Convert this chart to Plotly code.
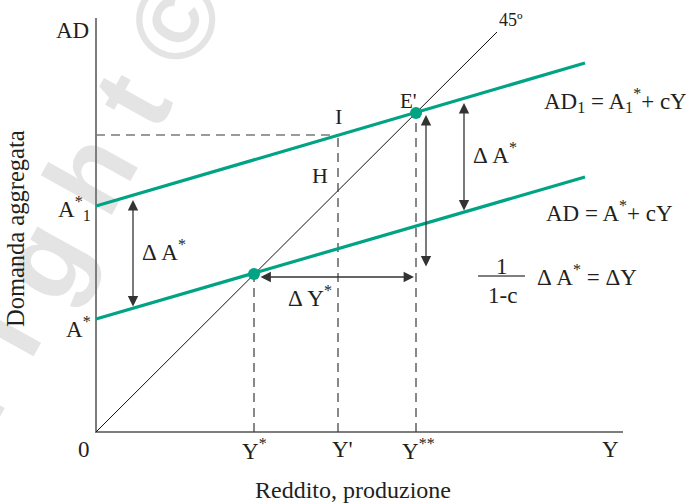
import plotly.graph_objects as go

# ---------------- data (pixel-like units) ----------------
Y_AXIS_TOP = 414          # top of vertical axis
X_AXIS_END = 527          # end of horizontal axis
A_STAR = 113              # intercept of AD
A1_STAR = 226             # intercept of AD1
AD_X = [0, 489]
AD_Y = [113, 255]         # AD = A* + cY
AD1_Y = [226, 369]        # AD1 = A1* + cY
LINE45_X = [0, 401]
LINE45_Y = [0, 400]
Y_STAR = 158              # first equilibrium
Y_PRIME = 242
Y_2STAR = 320             # new equilibrium
I_LEVEL = 297             # AD1 at Y'
E_LEVEL = 319
EQ_X = [158, 320]
EQ_Y = [158, 319]

X_TICK_VALS = [158, 246, 322, 514]
X_TICK_TEXT = ["Y<sup>*</sup>", "Y'", "Y<sup>**</sup>", "Y"]

GREEN = "#00a383"
TXT = "#231f20"
FONT = "Liberation Serif"

fig = go.Figure()

# axes
fig.add_trace(go.Scatter(x=[0, 0, X_AXIS_END], y=[Y_AXIS_TOP, 0, 0], mode="lines",
                         line=dict(color="#7d7d7d", width=2), hoverinfo="skip"))
# 45 degree line
fig.add_trace(go.Scatter(x=LINE45_X, y=LINE45_Y, mode="lines",
                         line=dict(color="#111111", width=1), hoverinfo="skip"))
# dashed guides
fig.add_trace(go.Scatter(x=[0, Y_PRIME], y=[I_LEVEL, I_LEVEL], mode="lines",
                         line=dict(color="#7a7a7a", width=1.6, dash="9px,6px"), hoverinfo="skip"))
for xv, top in [(Y_STAR, EQ_Y[0]), (Y_PRIME, I_LEVEL), (Y_2STAR, E_LEVEL)]:
    fig.add_trace(go.Scatter(x=[xv, xv], y=[0, top], mode="lines",
                             line=dict(color="#3a3a3a", width=1.2, dash="9px,6px"), hoverinfo="skip"))
# AD lines
fig.add_trace(go.Scatter(x=AD_X, y=AD_Y, mode="lines", line=dict(color=GREEN, width=3.2), hoverinfo="skip"))
fig.add_trace(go.Scatter(x=AD_X, y=AD1_Y, mode="lines", line=dict(color=GREEN, width=3.2), hoverinfo="skip"))
# equilibrium points
fig.add_trace(go.Scatter(x=EQ_X, y=EQ_Y, mode="markers",
                         marker=dict(color=GREEN, size=12), hoverinfo="skip"))

annotations = []

def txt(x, y, s, size=23, **kw):
    annotations.append(dict(x=x, y=y, xref="x", yref="y", text=s, showarrow=False,
                            font=dict(family=FONT, size=size, color=TXT), **kw))

def arrow(x0, y0, x1, y1):
    annotations.append(dict(x=x1, y=y1, ax=x0, ay=y0, xref="x", yref="y", axref="x", ayref="y",
                            text="", showarrow=True, arrowhead=2, arrowside="end+start",
                            arrowsize=1.6, arrowwidth=1.3, arrowcolor="#333333",
                            standoff=0, startstandoff=0))

# arrows
arrow(37, 124, 37, 232)                 # left Delta A*
arrow(368, 220, 368, 329)               # right Delta A*
arrow(330, 164, 330, 317)               # vertical Delta Y
arrow(163, 155, 318, 155)               # horizontal Delta Y*

# tick labels
txt(-12, -17, "0")
for v, t in zip(X_TICK_VALS, X_TICK_TEXT):
    txt(v, -17, t)
txt(-24, 402, "AD")
txt(-22, 224, "A<sup>*</sup><sub>1</sub>")
txt(-18, 105, "A<sup>*</sup>")

# point labels
txt(415, 412, "45º", size=18)
txt(242, 316, "I", size=22)
txt(224, 257, "H", size=22)
txt(312, 331, "E'", size=21)

# delta labels
txt(68, 182, "Δ A<sup>*</sup>")
txt(399, 279, "Δ A<sup>*</sup>")
txt(214, 136, "Δ Y<sup>*</sup>")

# equations
txt(519, 332, "AD<sub>1</sub> = A<sub>1</sub><sup>*</sup>+ cY")
txt(513, 221, "AD = A<sup>*</sup>+ cY")
txt(406, 166, "1")
txt(406, 137, "1-c")
txt(491, 157, "Δ A<sup>*</sup> = ΔY")

# axis titles
txt(257, -58, "Reddito, produzione", size=24)
txt(-81, 203, "Domanda aggregata", size=24.5, textangle=-90)

shapes = [
    dict(type="line", xref="x", yref="y", x0=382, x1=429, y0=156, y1=156,
         line=dict(color="#555555", width=1.4)),
    # watermark, drawn beneath the chart
    dict(type="line", xref="paper", yref="paper", x0=-0.056, y0=0.268, x1=-0.031, y1=0.268,
         layer="below", line=dict(color="rgba(0,0,0,0)", width=0),
         label=dict(text="<b>C o p y r i g h t ©</b>", textangle=-61,
                    textposition="middle", yanchor="middle", xanchor="center",
                    font=dict(family="Liberation Sans", size=112, color="#e4e4e4"))),
]

fig.update_layout(
    width=686, height=503, autosize=False,
    margin=dict(l=0, r=0, t=0, b=0),
    paper_bgcolor="white", plot_bgcolor="white",
    showlegend=False,
    xaxis=dict(range=[-96, 590], visible=False, fixedrange=True),
    yaxis=dict(range=[-71, 432], visible=False, fixedrange=True),
    annotations=annotations, shapes=shapes,
)

fig.write_html("out.html", config={"displayModeBar": False},
               post_script="document.body.style.margin='0';")
